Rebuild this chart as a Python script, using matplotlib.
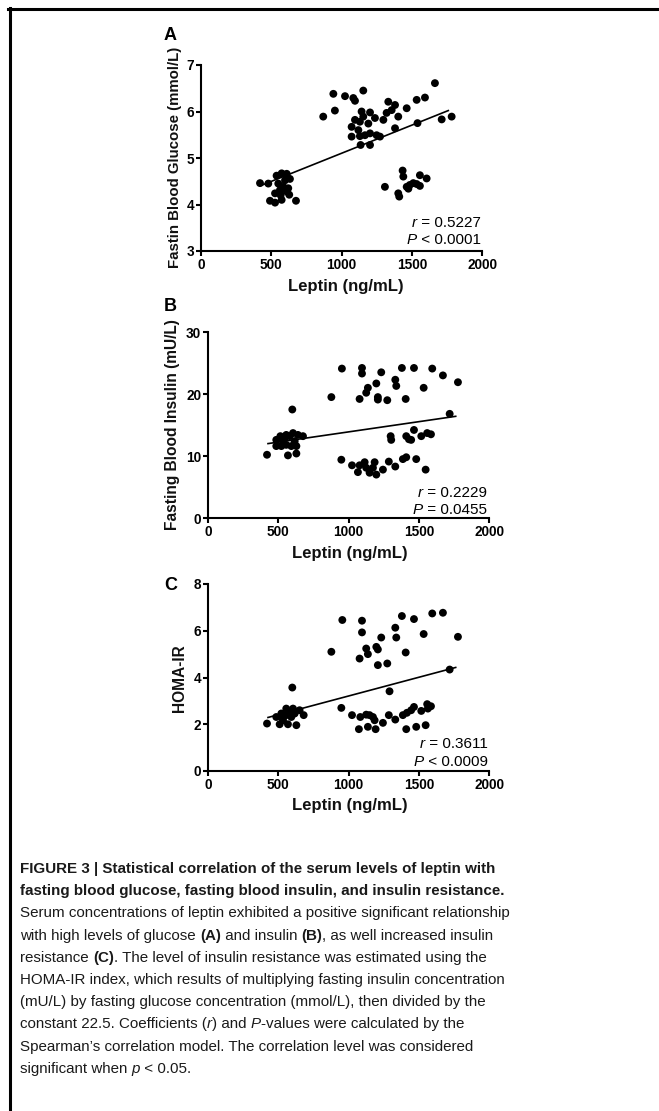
import matplotlib
matplotlib.use("Agg")
import matplotlib.pyplot as plt
from matplotlib import font_manager
from matplotlib.transforms import IdentityTransform
from matplotlib.lines import Line2D

# ---------------- data ----------------
leptin_a = [420, 479, 491, 538, 574, 610, 550, 586, 527, 567, 610, 527, 574, 621, 628, 676,
            598, 562, 633,
            870, 942, 953, 1025, 1084, 1096, 1155, 1072, 1072, 1096, 1120, 1131, 1143, 1155,
            1131, 1167, 1191, 1203, 1203, 1238, 1250, 1274, 1298, 1321, 1333, 1357, 1381,
            1404, 1381, 1464, 1535, 1594, 1541, 1665, 1713, 1784, 1203, 1136,
            1309, 1435, 1440, 1404, 1411, 1464, 1486, 1511, 1535, 1558, 1558, 1606, 1476]
glucose_a = [4.46, 4.45, 4.08, 4.62, 4.67, 4.66, 4.45, 4.38, 4.24, 4.20, 4.28, 4.04, 4.10, 4.35, 4.21, 4.08,
             4.52, 4.31, 4.55,
             5.89, 6.38, 6.02, 6.33, 6.29, 6.23, 6.45, 5.67, 5.46, 5.82, 5.60, 5.78, 6.00, 5.89,
             5.47, 5.49, 5.74, 5.53, 5.98, 5.86, 5.49, 5.46, 5.82, 5.97, 6.21, 6.03, 6.14,
             5.89, 5.64, 6.07, 6.25, 6.30, 5.75, 6.61, 5.83, 5.89, 5.28, 5.28,
             4.38, 4.73, 4.60, 4.24, 4.17, 4.38, 4.42, 4.46, 4.44, 4.40, 4.63, 4.56, 4.34]
fit_x_a = [420, 1760]
fit_y_a = [4.40, 6.02]

leptin_b = [420, 486, 515, 534, 557, 522, 581, 605, 617, 629, 593, 557, 546, 676, 569, 629, 600, 486, 640,
            878, 953, 1096, 1096, 1079, 1126, 1138, 1198, 1209, 1209, 1233, 1276, 1333, 1340, 1380,
            1407, 1466, 1535, 1596, 1672, 1779, 1720,
            949, 1025, 1067, 1079, 1115, 1126, 1150, 1174, 1186, 1198, 1245, 1287, 1300, 1304, 1333,
            1387, 1411, 1411, 1430, 1446, 1466, 1482, 1518, 1549, 1560, 1587]
insulin_b = [10.2, 12.6, 13.2, 12.4, 11.8, 11.6, 13.2, 13.7, 12.4, 11.6, 11.6, 13.4, 12.9, 13.2, 10.1, 10.4, 17.5, 11.6, 13.4,
             19.5, 24.1, 24.2, 23.3, 19.2, 20.2, 21.0, 21.7, 19.5, 19.1, 23.5, 19.0, 22.3, 21.3, 24.2,
             19.2, 24.2, 21.0, 24.1, 23.0, 21.9, 16.8,
             9.4, 8.5, 7.4, 8.5, 9.0, 8.1, 7.3, 8.1, 9.0, 7.0, 7.8, 9.1, 13.2, 12.6, 8.3,
             9.5, 9.8, 13.2, 12.7, 12.6, 14.2, 9.5, 13.2, 7.8, 13.7, 13.5]
fit_x_b = [427, 1763]
fit_y_b = [12.0, 16.4]

leptin_c = [420, 486, 522, 534, 557, 581, 605, 617, 629, 569, 593, 527, 681, 600, 557, 652, 510,
            878, 956, 1096, 1096, 1079, 1126, 1138, 1198, 1209, 1209, 1233, 1276, 1333, 1340, 1380,
            1407, 1466, 1535, 1596, 1672, 1779, 1720,
            949, 1025, 1074, 1084, 1126, 1138, 1150, 1174, 1193, 1186, 1245, 1292, 1287, 1333,
            1387, 1411, 1416, 1446, 1466, 1482, 1518, 1549, 1560, 1587, 1565]
homa_c = [2.03, 2.31, 2.46, 2.17, 2.39, 2.53, 2.67, 2.46, 1.96, 2.00, 2.31, 2.29, 2.39, 3.57, 2.67, 2.60, 2.00,
          5.10, 6.46, 6.43, 5.93, 4.81, 5.24, 5.00, 5.31, 5.20, 4.53, 5.71, 4.60, 6.13, 5.71, 6.63,
          5.07, 6.50, 5.86, 6.74, 6.77, 5.74, 4.34,
          2.70, 2.39, 1.79, 2.31, 2.41, 1.89, 2.39, 2.31, 1.79, 2.17, 2.06, 3.41, 2.39, 2.20,
          2.39, 1.79, 2.49, 2.60, 2.74, 1.89, 2.57, 1.96, 2.86, 2.77, 2.67]
fit_x_c = [427, 1763]
fit_y_c = [2.29, 4.43]

x_ticks = [0, 500, 1000, 1500, 2000]
y_ticks_a = [3, 4, 5, 6, 7]
y_ticks_b = [0, 10, 20, 30]
y_ticks_c = [0, 2, 4, 6, 8]
x_label = "Leptin (ng/mL)"
y_label_a = "Fastin Blood Glucose (mmol/L)"
y_label_b = "Fasting Blood Insulin (mU/L)"
y_label_c = "HOMA-IR"
stats_a = ("0.5227", "<", "0.0001")
stats_b = ("0.2229", "=", "0.0455")
stats_c = ("0.3611", "<", "0.0009")

caption_lines = [
    [("FIGURE 3 | Statistical correlation of the serum levels of leptin with", "b")],
    [("fasting blood glucose, fasting blood insulin, and insulin resistance.", "b")],
    [("Serum concentrations of leptin exhibited a positive significant relationship", "r")],
    [("with high levels of glucose ", "r"), ("(A)", "b"), (" and insulin ", "r"), ("(B)", "b"),
     (", as well increased insulin", "r")],
    [("resistance ", "r"), ("(C)", "b"), (". The level of insulin resistance was estimated using the", "r")],
    [("HOMA-IR index, which results of multiplying fasting insulin concentration", "r")],
    [("(mU/L) by fasting glucose concentration (mmol/L), then divided by the", "r")],
    [("constant 22.5. Coefficients (", "r"), ("r", "i"), (") and ", "r"), ("P", "i"),
     ("-values were calculated by the", "r")],
    [("Spearman\u2019s correlation model. The correlation level was considered", "r")],
    [("significant when ", "r"), ("p", "i"), (" < 0.05.", "r")],
]

# ---------------- setup ----------------
W, H = 659, 1111
fig = plt.figure(figsize=(W / 100, H / 100), dpi=100)
fig.patch.set_facecolor("white")
renderer = fig.canvas.get_renderer()


def has_font(name):
    try:
        font_manager.findfont(font_manager.FontProperties(family=name), fallback_to_default=False)
        return True
    except Exception:
        return False


SANS = "Liberation Sans"
NARROW = "Liberation Sans Narrow" if has_font("Liberation Sans Narrow") else "Liberation Sans"
CAP_SIZE = 11.5 if NARROW != "Liberation Sans" else 10.9

STY = {"r": dict(fontweight="normal", fontstyle="normal"),
       "b": dict(fontweight="bold", fontstyle="normal"),
       "i": dict(fontweight="normal", fontstyle="italic")}


def adv(s, size, family, style):
    t1 = fig.text(0, 0, "|" + s + "|", fontsize=size, family=family, transform=IdentityTransform(), **STY[style])
    t2 = fig.text(0, 0, "||", fontsize=size, family=family, transform=IdentityTransform(), **STY[style])
    w = t1.get_window_extent(renderer).width - t2.get_window_extent(renderer).width
    t1.remove()
    t2.remove()
    return w


def draw_runs(x, y, segs, size, family, ha="left", color="black"):
    widths = [adv(s, size, family, st) for s, st in segs]
    total = sum(widths)
    cx = x - total if ha == "right" else x
    for (s, st), w in zip(segs, widths):
        fig.text(cx, H - y, s, fontsize=size, family=family, va="baseline", ha="left",
                 transform=IdentityTransform(), color=color, **STY[st])
        cx += w


def make_ax(l, r, t, b):
    return fig.add_axes([l / W, 1 - b / H, (r - l) / W, (b - t) / H])


def style_ax(ax, ylim, yticks):
    ax.set_xlim(0, 2000)
    ax.set_ylim(*ylim)
    ax.set_xticks(x_ticks)
    ax.set_yticks(yticks)
    for s in ("top", "right"):
        ax.spines[s].set_visible(False)
    for s in ("left", "bottom"):
        ax.spines[s].set_linewidth(1.5)
    ax.tick_params(direction="out", length=3.5, width=1.5, labelsize=9.8, pad=1.5)
    for lab in ax.get_xticklabels() + ax.get_yticklabels():
        lab.set_fontweight("bold")
        lab.set_family(SANS)
    ax.set_facecolor("white")


panels = [
    dict(box=(201, 482, 65, 251), x=leptin_a, y=glucose_a, fx=fit_x_a, fy=fit_y_a, ylim=(3, 7),
         yt=y_ticks_a, yl=y_label_a, ylpos=(175, 157), ylsize=10.8, xlpos=(346, 291), letter="A",
         lpos=(164, 40), stats=stats_a, spos=(481, 227, 244)),
    dict(box=(208, 489, 332, 518), x=leptin_b, y=insulin_b, fx=fit_x_b, fy=fit_y_b, ylim=(0, 30),
         yt=y_ticks_b, yl=y_label_b, ylpos=(173, 425), ylsize=11.2, xlpos=(350, 558), letter="B",
         lpos=(164, 311), stats=stats_b, spos=(487, 497, 514)),
    dict(box=(208, 489, 584, 771), x=leptin_c, y=homa_c, fx=fit_x_c, fy=fit_y_c, ylim=(0, 8),
         yt=y_ticks_c, yl=y_label_c, ylpos=(180, 678), ylsize=11.2, xlpos=(350, 810), letter="C",
         lpos=(164, 590), stats=stats_c, spos=(488, 748, 766)),
]

for p in panels:
    ax = make_ax(*p["box"])
    ax.plot(p["fx"], p["fy"], color="black", lw=1.2, zorder=2)
    ax.scatter(p["x"], p["y"], s=32, color="black", edgecolors="none", zorder=3, clip_on=False)
    style_ax(ax, p["ylim"], p["yt"])
    fig.text(p["xlpos"][0] / W, 1 - p["xlpos"][1] / H, x_label, ha="center", va="baseline",
             fontsize=12, fontweight="bold", family=SANS, color="#111111")
    fig.text(p["ylpos"][0] / W, 1 - p["ylpos"][1] / H, p["yl"], ha="center", va="center",
             rotation=90, fontsize=p["ylsize"], fontweight="bold", family=SANS, color="#111111")
    fig.text(p["lpos"][0] / W, 1 - p["lpos"][1] / H, p["letter"], ha="left", va="baseline",
             fontsize=13, fontweight="bold", family=SANS)
    rv, op, pv = p["stats"]
    sx, sy1, sy2 = p["spos"]
    draw_runs(sx, sy1, [("r", "i"), (" = " + rv, "r")], 11, SANS, ha="right")
    draw_runs(sx, sy2, [("P", "i"), (" " + op + " " + pv, "r")], 11, SANS, ha="right")

# caption
for i, segs in enumerate(caption_lines):
    draw_runs(20, 873 + 22.2 * i, segs, CAP_SIZE, NARROW, color="#1a1a1a")

# frame (top and left rules)
fig.add_artist(Line2D([9.5, 9.5], [0, H - 8], transform=IdentityTransform(), color="black", lw=2.2))
fig.add_artist(Line2D([8.4, W], [H - 8.5, H - 8.5], transform=IdentityTransform(), color="black", lw=2.2))

fig.savefig("out.png", dpi=100, facecolor="white")
